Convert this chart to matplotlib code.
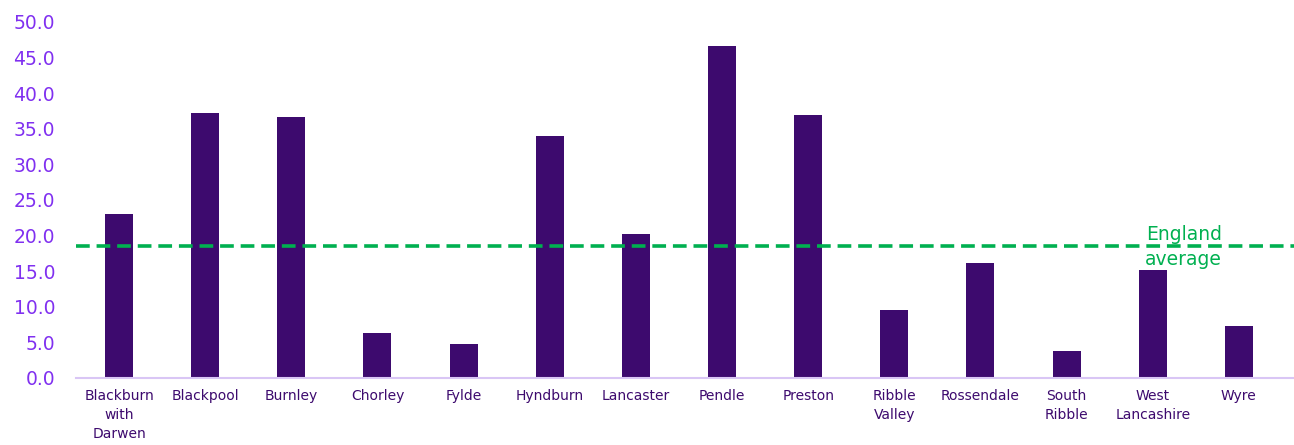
import matplotlib
matplotlib.use("Agg")
import matplotlib.pyplot as plt

# Lancashire districts and their values
districts = ["Blackburn\nwith\nDarwen", "Blackpool", "Burnley", "Chorley", "Fylde",
             "Hyndburn", "Lancaster", "Pendle", "Preston", "Ribble\nValley",
             "Rossendale", "South\nRibble", "West\nLancashire", "Wyre"]
values = [23.0, 37.2, 36.7, 6.3, 4.8, 34.0, 20.2, 46.6, 36.9, 9.6, 16.2, 3.8, 15.2, 7.3]
england_avg = 18.6
yticks = [0, 5, 10, 15, 20, 25, 30, 35, 40, 45, 50]

bar_col = "#3D0A6E"
tick_col = "#8030F0"
green = "#00B050"

fig = plt.figure(figsize=(12.94, 4.45), dpi=100)
ax = fig.add_axes([0.0587, 0.1506, 0.9413, 0.80])

x = list(range(len(districts)))
ax.bar(x, values, width=0.325, color=bar_col, zorder=2)
ax.axhline(england_avg, color=green, lw=2.6, dashes=(3.8, 1.9), zorder=3)
ax.text(12.36, england_avg - 0.2, "England\naverage", color=green, fontsize=13.5,
        ha="center", va="center", linespacing=1.4, zorder=4)

ax.set_ylim(0, 50)
ax.set_xlim(-0.5, 13.64)
ax.set_yticks(yticks)
ax.set_yticklabels([f"{v:.1f}" for v in yticks], color=tick_col, fontsize=13.5)
ax.set_xticks(x)
ax.set_xticklabels(districts, color=bar_col, fontsize=10, linespacing=1.45, va="top")
ax.tick_params(axis="both", length=0)
ax.tick_params(axis="x", pad=8)
ax.tick_params(axis="y", pad=15)

for s in ["top", "right", "left"]:
    ax.spines[s].set_visible(False)
ax.spines["bottom"].set_color("#D9C6F5")
ax.spines["bottom"].set_linewidth(1.5)

fig.savefig("out.png", dpi=100)
